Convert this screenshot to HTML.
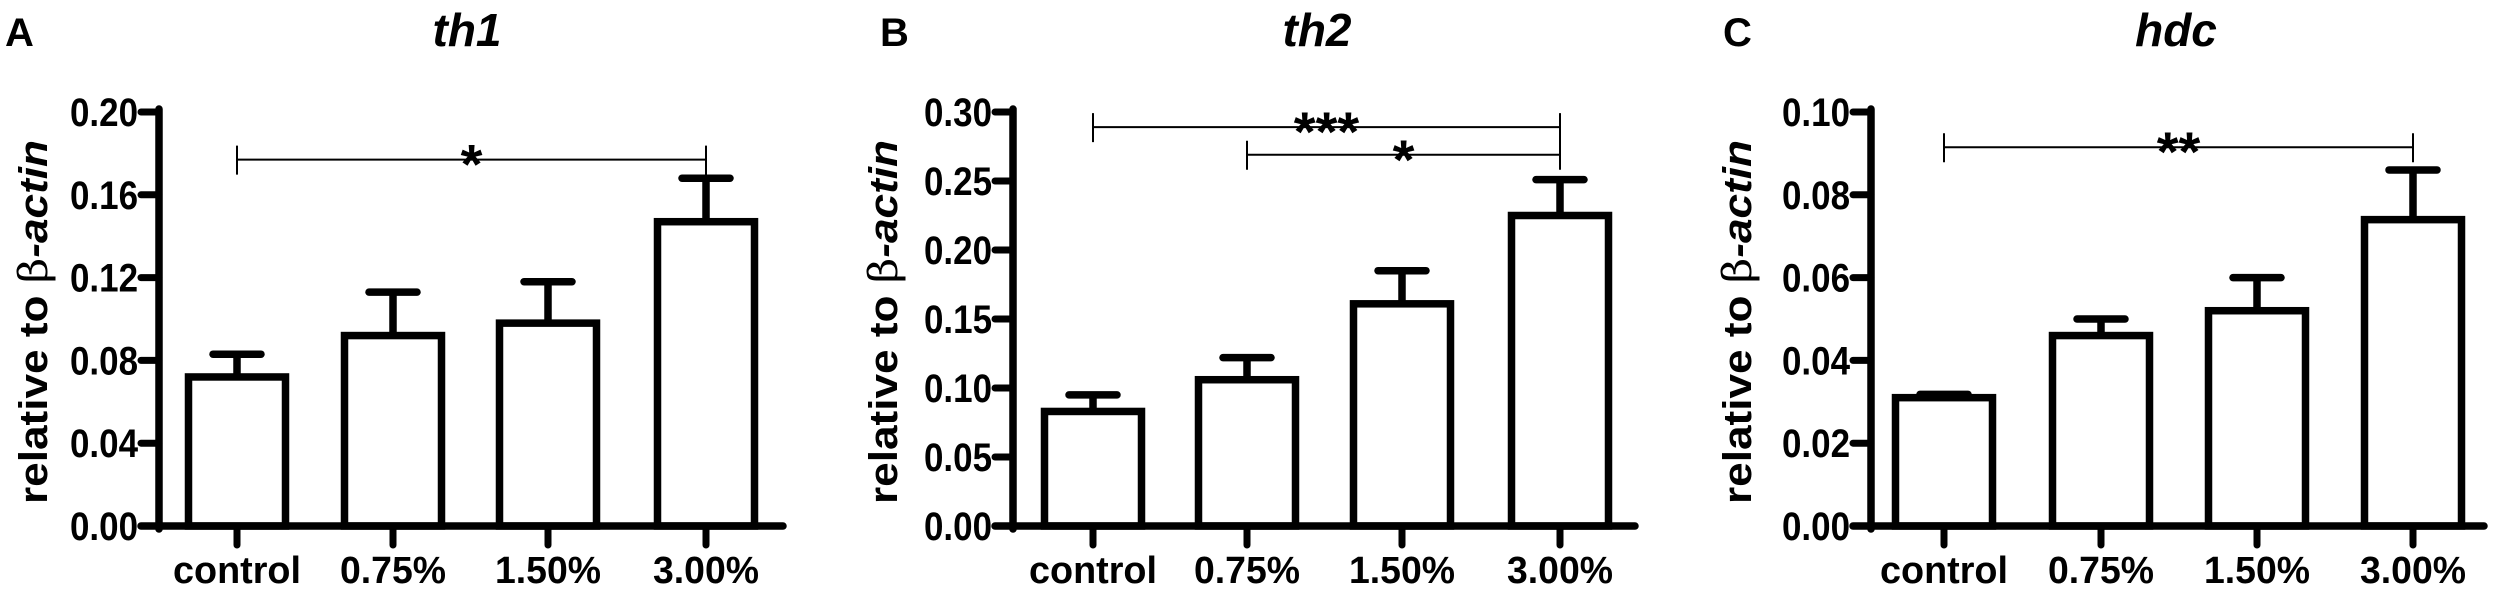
<!DOCTYPE html>
<html><head><meta charset="utf-8"><style>
html,body{margin:0;padding:0;background:#fff;}
svg{display:block;}
text{font-family:"Liberation Sans Narrow","Liberation Sans",sans-serif;font-weight:bold;fill:#000;}
</style></head><body>
<svg id="fig" width="2500" height="589" viewBox="0 0 2500 589" xmlns="http://www.w3.org/2000/svg"></svg>
<script>
const categories = ["control", "0.75%", "1.50%", "3.00%"];
const thOneMeans = [0.072, 0.092, 0.098, 0.147];
const thOneErrors = [0.011, 0.021, 0.020, 0.021];
const thTwoMeans = [0.083, 0.106, 0.161, 0.225];
const thTwoErrors = [0.012, 0.016, 0.024, 0.026];
const hdcMeans = [0.031, 0.046, 0.052, 0.074];
const hdcErrors = [0.0008, 0.004, 0.008, 0.012];
const thOneTicks = ["0.00", "0.04", "0.08", "0.12", "0.16", "0.20"];
const thTwoTicks = ["0.00", "0.05", "0.10", "0.15", "0.20", "0.25", "0.30"];
const hdcTicks = ["0.00", "0.02", "0.04", "0.06", "0.08", "0.10"];
const thOneSig = [[0, 3, 0.177, "*"]];
const thTwoSig = [[0, 3, 0.289, "***"], [1, 3, 0.269, "*"]];
const hdcSig = [[0, 3, 0.0915, "**"]];

const NS = "http://www.w3.org/2000/svg";
const svg = document.getElementById("fig");
function mk(tag, attrs, parent) {
  const e = document.createElementNS(NS, tag);
  for (const k in attrs) e.setAttribute(k, attrs[k]);
  (parent || svg).appendChild(e);
  return e;
}

function panel(cfg) {
  const g = mk("g", {});
  
  
  const x0 = cfg.axisX, yTop = 112, yBase = 526;
  const maxV = parseFloat(cfg.ticks[cfg.ticks.length - 1]);
  const y = v => yBase - (v / maxV) * (yBase - yTop);
  const x = i => cfg.centers[i];

  const L = mk("text", {x: cfg.letterX, y: 46, "font-size": 40, style: "font-family:'Liberation Sans',sans-serif"}, g);
  L.textContent = cfg.letter;
  
  
  const T = mk("text", {x: cfg.titleX, y: 46, "font-size": 46, "font-style": "italic", "text-anchor": "middle", style: "font-family:'Liberation Sans',sans-serif"}, g);
  T.textContent = cfg.title;
  
  
  const yt = mk("text", {x: 0, y: 0, "font-size": 40, "text-anchor": "middle", transform: `translate(${cfg.ylabX + 14},322) rotate(-90)`, textLength: 364, lengthAdjust: "spacingAndGlyphs", style: "font-family:'Liberation Sans',sans-serif"}, g);
  
  
  yt.appendChild(document.createTextNode("relative to "));
  const b = mk("tspan", {"font-weight": "normal", style: "font-family:'DejaVu Serif',serif"}, yt); b.textContent = "β";
  const a = mk("tspan", {"font-style": "italic"}, yt); a.textContent = "-actin";

  categories.forEach((c, i) => {
    const r = mk("rect", {x: x(i) - 48.5, y: y(cfg.means[i]), width: 97, height: yBase - y(cfg.means[i]), fill: "#fff", stroke: "#000", "stroke-width": 7.5}, g);
    
    
    const top = y(cfg.means[i] + cfg.errs[i]);
    const el = mk("line", {x1: x(i), x2: x(i), y1: y(cfg.means[i]), y2: top, stroke: "#000", "stroke-width": 7.5}, g);
    
    
    const cap = mk("line", {x1: x(i) - 24, x2: x(i) + 24, y1: top, y2: top, stroke: "#000", "stroke-width": 7.5, "stroke-linecap": "round"}, g);
    
    
    const xt = mk("line", {x1: x(i), x2: x(i), y1: yBase, y2: 545, stroke: "#000", "stroke-width": 7, "stroke-linecap": "round"}, g);
    
    
    const lab = mk("text", {x: x(i), y: 583, "font-size": 38, "text-anchor": "middle", textLength: c === "control" ? 128 : 106, lengthAdjust: "spacingAndGlyphs"}, g);
    lab.textContent = c;
    
    
  });

  const ya = mk("line", {x1: x0, x2: x0, y1: yTop - 3, y2: yBase + 3, stroke: "#000", "stroke-width": 7.5, "stroke-linecap": "round"}, g);
  
  
  const xa = mk("line", {x1: x0 - 18, x2: cfg.axisEnd, y1: yBase, y2: yBase, stroke: "#000", "stroke-width": 7.5, "stroke-linecap": "round"}, g);
  
  
  cfg.ticks.forEach(t => {
    const ty = y(parseFloat(t));
    const tl = mk("line", {x1: x0 - 18, x2: x0, y1: ty, y2: ty, stroke: "#000", "stroke-width": 7, "stroke-linecap": "round"}, g);
    
    
    const tx = mk("text", {x: x0 - 21, y: ty + 14, "font-size": 40, "text-anchor": "end", textLength: 68, lengthAdjust: "spacingAndGlyphs"}, g);
    tx.textContent = t;
    
    
  });

  cfg.sig.forEach(s => {
    const sy = y(s[2]), xa1 = x(s[0]), xb = x(s[1]);
    const h = mk("path", {d: `M${xa1},${sy - 14} V${sy + 15} M${xa1},${sy} H${xb} M${xb},${sy - 14} V${sy + 15}`, stroke: "#000", "stroke-width": 2, fill: "none"}, g);
    
    
    const st = mk("text", {x: (xa1 + xb) / 2, y: sy + 24, "font-size": 56, "text-anchor": "middle", style: "font-family:'Liberation Sans',sans-serif"}, g);
    st.textContent = s[3];
    
    
  });
}

panel({id: "th1", letter: "A", letterX: 5, title: "th1", titleX: 467, ylabX: 33, axisX: 159, axisEnd: 783,
  centers: [237, 393, 548, 706], means: thOneMeans, errs: thOneErrors, ticks: thOneTicks, sig: thOneSig});
panel({id: "th2", letter: "B", letterX: 880, title: "th2", titleX: 1317, ylabX: 883, axisX: 1013, axisEnd: 1635,
  centers: [1093, 1247, 1402, 1560], means: thTwoMeans, errs: thTwoErrors, ticks: thTwoTicks, sig: thTwoSig});
panel({id: "hdc", letter: "C", letterX: 1723, title: "hdc", titleX: 2176, ylabX: 1737, axisX: 1871, axisEnd: 2484,
  centers: [1944, 2101, 2257, 2413], means: hdcMeans, errs: hdcErrors, ticks: hdcTicks, sig: hdcSig});
</script>
</body></html>
